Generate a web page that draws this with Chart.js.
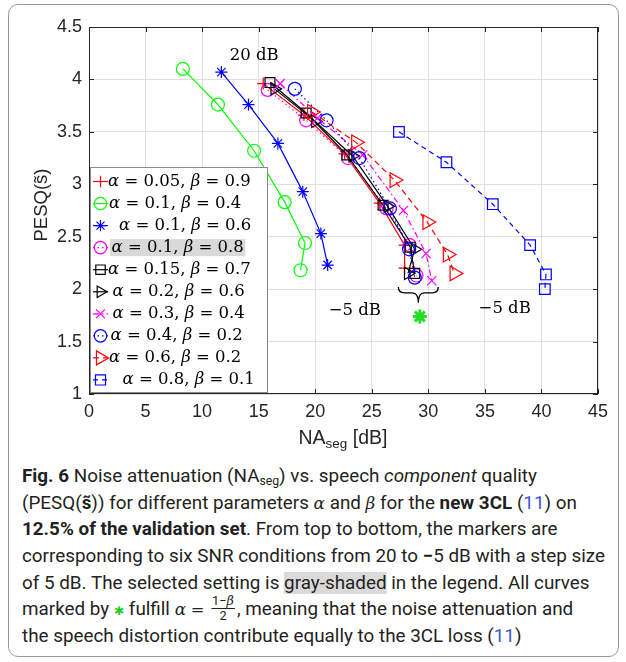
<!DOCTYPE html>
<html><head><meta charset="utf-8">
<script src="https://cdn.jsdelivr.net/npm/chart.js@4.4.1/dist/chart.umd.min.js"></script>
<style>
html,body{margin:0;padding:0;background:#fff}
body{width:626px;height:662px;position:relative;overflow:hidden}
#frame{position:absolute;left:8px;top:4px;width:611px;height:653px;border:1.3px solid #9a9a9a;border-radius:10px;box-sizing:border-box}
#c{position:absolute;left:0;top:0}
#cap{position:absolute;left:22px;top:463px;font-family:Roboto,"Liberation Sans",sans-serif;font-size:18.5px;color:#231f20;transform-origin:0 0;white-space:nowrap}
#cap .ln{height:26.7px;line-height:26.7px;white-space:nowrap}
.m{font-family:"DejaVu Serif",serif;font-style:italic;font-size:16.5px}
.bl{color:#3c56d6}
.gs{background:#dadada}
sub{font-size:12px;vertical-align:-3px;line-height:0}
.frac{display:inline-block;vertical-align:middle;text-align:center;font-size:12.5px;line-height:12px;margin:0 2px;position:relative;top:-2px}
.frac .nu{display:block;border-bottom:1px solid #231f20;padding:0 1px 1px}
.frac .de{display:block;padding-top:1px}
.gst{color:#22cc22;font-family:"DejaVu Sans",sans-serif;font-size:12px;font-weight:bold}
</style></head><body>
<div id="frame"></div>
<canvas id="c" width="626" height="455"></canvas>
<div id="cap">
<div class="ln"><span><b>Fig. 6</b> Noise attenuation (NA<sub>seg</sub>) vs. speech <i>component</i> quality</span></div>
<div class="ln"><span>(PESQ(<b>s̃</b>)) for different parameters <span class="m">α</span> and <span class="m">β</span> for the <b>new 3CL</b> (<span class="bl">11</span>) on</span></div>
<div class="ln"><span><b>12.5% of the validation set</b>. From top to bottom, the markers are</span></div>
<div class="ln"><span id="ln4">corresponding to six SNR conditions from 20 to <b>−</b>5 dB with a step size</span></div>
<div class="ln"><span>of 5 dB. The selected setting is <span class="gs">gray-shaded</span> in the legend. All curves</span></div>
<div class="ln"><span>marked by <span class="gst">✱</span> fulfill <span class="m">α</span> <span style="font-family:'DejaVu Serif';font-size:16px">=</span> <span class="frac"><span class="nu">1−<i style="font-family:'DejaVu Serif'">β</i></span><span class="de">2</span></span>, meaning that the noise attenuation and</span></div>
<div class="ln"><span>the speech distortion contribute equally to the 3CL loss (<span class="bl">11</span>)</span></div>
</div>
<script>
// ---- data ----
const snrLevels = ['20 dB','15 dB','10 dB','5 dB','0 dB','-5 dB'];
const alphaVals = ['0.05','0.1','0.1','0.1','0.15','0.2','0.3','0.4','0.6','0.8'];
const betaVals  = ['0.9','0.4','0.6','0.8','0.7','0.6','0.4','0.2','0.2','0.1'];

const na_a005_b09 = [15.4, 19.0, 22.6, 25.7, 27.9, 27.9];
const pesq_a005_b09 = [3.96, 3.66, 3.29, 2.82, 2.42, 2.20];
const na_a01_b04 = [8.3, 11.4, 14.6, 17.3, 19.1, 18.7];
const pesq_a01_b04 = [4.10, 3.76, 3.32, 2.83, 2.44, 2.18];
const na_a01_b06 = [11.7, 14.1, 16.7, 18.9, 20.5, 21.1];
const pesq_a01_b06 = [4.07, 3.76, 3.39, 2.93, 2.53, 2.23];
const na_a01_b08 = [15.8, 19.2, 22.9, 26.3, 28.35, 28.95];
const pesq_a01_b08 = [3.90, 3.61, 3.25, 2.77, 2.42, 2.13];
const na_a015_b07 = [16.0, 19.2, 22.8, 26.0, 28.4, 28.8];
const pesq_a015_b07 = [3.97, 3.68, 3.28, 2.80, 2.40, 2.15];
const na_a02_b06 = [16.4, 20.0, 23.3, 26.4, 28.8, 28.2];
const pesq_a02_b06 = [3.91, 3.60, 3.27, 2.79, 2.38, 2.15];
const na_a03_b04 = [16.9, 20.2, 24.2, 27.8, 29.8, 30.3];
const pesq_a03_b04 = [3.96, 3.63, 3.28, 2.75, 2.34, 2.08];
const na_a04_b02 = [18.2, 21.0, 23.9, 26.6, 28.3, 28.8];
const pesq_a04_b02 = [3.91, 3.61, 3.25, 2.77, 2.38, 2.11];
const na_a06_b02 = [19.7, 23.6, 27.0, 29.9, 31.7, 32.3];
const pesq_a06_b02 = [3.69, 3.40, 3.04, 2.64, 2.33, 2.15];
const na_a08_b01 = [27.4, 31.6, 35.7, 39.0, 40.4, 40.3];
const pesq_a08_b01 = [3.50, 3.21, 2.81, 2.42, 2.14, 2.00];

const equalMarkNA = [29.25];
const equalMarkPESQ = [1.74];

const xTickValues = [0,5,10,15,20,25,30,35,40,45];
const xTickLabels = ['0','5','10','15','20','25','30','35','40','45'];
const yTickValues = [1,1.5,2,2.5,3,3.5,4,4.5];
const yTickLabels = ['1','1.5','2','2.5','3','3.5','4','4.5'];

const allNA = [na_a005_b09,na_a01_b04,na_a01_b06,na_a01_b08,na_a015_b07,na_a02_b06,na_a03_b04,na_a04_b02,na_a06_b02,na_a08_b01];
const allPESQ = [pesq_a005_b09,pesq_a01_b04,pesq_a01_b06,pesq_a01_b08,pesq_a015_b07,pesq_a02_b06,pesq_a03_b04,pesq_a04_b02,pesq_a06_b02,pesq_a08_b01];

// ---- styles ----
const styles = [
 {color:'#ff0000', point:'cross', r:6, rot:0, dash:[]},
 {color:'#00ff00', point:'circle', r:6.5, rot:0, dash:[]},
 {color:'#0000ff', point:'star', r:6, rot:0, dash:[]},
 {color:'#ff00ff', point:'circle', r:6.5, rot:0, dash:[1.5,3]},
 {color:'#000000', point:'rect', r:7, rot:0, dash:[]},
 {color:'#000000', point:'triangle', r:7, rot:90, dash:[]},
 {color:'#ff00ff', point:'crossRot', r:6.5, rot:0, dash:[6,3,1.5,3]},
 {color:'#0000ff', point:'circle', r:6.5, rot:0, dash:[1.5,3]},
 {color:'#ff0000', point:'triangle', r:8.5, rot:90, dash:[6,4]},
 {color:'#0000ff', point:'rect', r:7.5, rot:0, dash:[5,4]}
];
const legendTextX = [108,109,119,111.5,108,112.5,112.5,110.5,109,122.5];
const shadedIndex = 3;
const SERIF = '"DejaVu Serif", serif';
const SANS = '"Liberation Sans", Arial, sans-serif';

const datasets = allNA.map((na,i)=>({
  label: 'α = '+alphaVals[i]+', β = '+betaVals[i],
  data: na.map((v,k)=>({x:v, y:allPESQ[i][k]})),
  showLine:true,
  borderColor: styles[i].color,
  borderWidth: 1.2,
  borderDash: styles[i].dash,
  pointStyle: styles[i].point,
  pointRadius: styles[i].r,
  pointRotation: styles[i].rot,
  pointBorderColor: styles[i].color,
  pointBackgroundColor: 'rgba(0,0,0,0)',
  pointBorderWidth: 1.2,
  tension: 0,
  order: -i
}));
datasets.push({
  label:'equal',
  data: equalMarkNA.map((v,k)=>({x:v, y:equalMarkPESQ[k]})),
  showLine:false,
  pointStyle:'star', pointRadius:7, pointBorderWidth:3,
  pointBorderColor:'#22dd22', pointBackgroundColor:'rgba(0,0,0,0)',
  order: -20
});

function drawMixed(ctx, parts, x, y, size){
  let cx = x;
  for (const p of parts){
    ctx.font = (p.i?'italic ':'') + size + 'px ' + SERIF;
    ctx.fillText(p.t, cx, y);
    cx += ctx.measureText(p.t).width;
  }
  return cx - x;
}
function mixedWidth(ctx, parts, size){
  let w = 0;
  for (const p of parts){ ctx.font = (p.i?'italic ':'') + size + 'px ' + SERIF; w += ctx.measureText(p.t).width; }
  return w;
}

const decor = {
  id:'decor',
  afterDatasetsDraw(chart){
    const {ctx, chartArea:a, scales:{x,y}} = chart;
    ctx.save();
    // axes box
    ctx.strokeStyle = '#262626'; ctx.lineWidth = 1; ctx.setLineDash([]);
    ctx.strokeRect(a.left+0.5, a.top+0.5, a.right-a.left-1, a.bottom-a.top-1);
    // inward ticks
    ctx.beginPath();
    xTickValues.forEach(v=>{
      const px = Math.round(x.getPixelForValue(v))+0.5;
      ctx.moveTo(px, a.bottom); ctx.lineTo(px, a.bottom-5);
      ctx.moveTo(px, a.top); ctx.lineTo(px, a.top+5);
    });
    yTickValues.forEach(v=>{
      const py = Math.round(y.getPixelForValue(v))+0.5;
      ctx.moveTo(a.left, py); ctx.lineTo(a.left+5, py);
      ctx.moveTo(a.right, py); ctx.lineTo(a.right-5, py);
    });
    ctx.stroke();

    // annotations
    ctx.fillStyle = '#000';
    ctx.font = '16.5px ' + SERIF;
    ctx.textAlign = 'center'; ctx.textBaseline = 'middle';
    ctx.fillText('20 dB', x.getPixelForValue(14.6), y.getPixelForValue(4.23));
    ctx.fillText('−5 dB', x.getPixelForValue(23.5), y.getPixelForValue(1.79));
    ctx.fillText('−5 dB', x.getPixelForValue(36.75), y.getPixelForValue(1.81));

    // brace
    const bx0 = x.getPixelForValue(27.35), bx1 = x.getPixelForValue(30.88);
    const bm = (bx0+bx1)/2;
    const by0 = y.getPixelForValue(2.02), by1 = y.getPixelForValue(1.965), by2 = y.getPixelForValue(1.87);
    ctx.strokeStyle = '#000'; ctx.lineWidth = 1.3;
    ctx.beginPath();
    ctx.moveTo(bx0, by0);
    ctx.quadraticCurveTo(bx0, by1, bx0+6, by1);
    ctx.lineTo(bm-6, by1);
    ctx.quadraticCurveTo(bm, by1, bm, by2);
    ctx.quadraticCurveTo(bm, by1, bm+6, by1);
    ctx.lineTo(bx1-6, by1);
    ctx.quadraticCurveTo(bx1, by1, bx1, by0);
    ctx.stroke();

    // legend
    const L = {left:90, top:167, right:267, bottom:392};
    ctx.fillStyle = '#fff';
    ctx.fillRect(L.left, L.top, L.right-L.left, L.bottom-L.top);
    ctx.strokeStyle = '#8a8a8a'; ctx.lineWidth = 1;
    ctx.strokeRect(L.left+0.5, L.top+0.5, L.right-L.left, L.bottom-L.top);
    const fs = 16.5;
    for (let i=0;i<alphaVals.length;i++){
      const ry = 181.5 + i*22.05;
      const parts = [{t:'α',i:true},{t:' = '+alphaVals[i]+', '},{t:'β',i:true},{t:' = '+betaVals[i]}];
      const tx = legendTextX[i];
      if (i===shadedIndex){
        const w = mixedWidth(ctx, parts, fs);
        ctx.fillStyle = '#d9d9d9';
        ctx.fillRect(tx-1.5, ry-8.5, w+3, 17);
      }
      const st = styles[i];
      ctx.strokeStyle = st.color; ctx.lineWidth = 1.2;
      ctx.setLineDash(st.dash);
      ctx.beginPath(); ctx.moveTo(93, ry); ctx.lineTo(108, ry); ctx.stroke();
      ctx.setLineDash([]);
      ctx.fillStyle = 'rgba(0,0,0,0)';
      Chart.helpers.drawPoint(ctx, {pointStyle:st.point, radius:st.r*0.95, rotation:st.rot, borderWidth:1.2}, 100.5, ry);
      ctx.fillStyle = '#000';
      ctx.textAlign = 'left'; ctx.textBaseline = 'middle';
      drawMixed(ctx, parts, tx, ry, fs);
    }
    ctx.restore();
  },
  afterDraw(chart){
    const {ctx} = chart;
    ctx.save();
    ctx.fillStyle = '#262626';
    ctx.textBaseline = 'alphabetic'; ctx.textAlign = 'left';
    const f1 = '19.5px ' + SANS, f2 = '13.5px ' + SANS;
    ctx.font = f1; const wNA = ctx.measureText('NA').width; const wdB = ctx.measureText(' [dB]').width;
    ctx.font = f2; const wseg = ctx.measureText('seg').width;
    let sx = 343 - (wNA+wseg+wdB)/2; const by = 444;
    ctx.font = f1; ctx.fillText('NA', sx, by); sx += wNA;
    ctx.font = f2; ctx.fillText('seg', sx, by+4); sx += wseg;
    ctx.font = f1; ctx.fillText(' [dB]', sx, by);
    ctx.font = '18.5px ' + SANS;
    ctx.translate(42, 205); ctx.rotate(-Math.PI/2);
    ctx.textAlign = 'center'; ctx.textBaseline = 'middle';
    ctx.fillText('PESQ(s\u0303)', 0, 0);
    ctx.restore();
  }
};

new Chart(document.getElementById('c'), {
  type:'scatter',
  data:{datasets},
  options:{
    responsive:false, animation:false, devicePixelRatio:1,
    layout:{padding:{left:0, top:27, right:28, bottom:0}},
    plugins:{legend:{display:false}, tooltip:{enabled:false}},
    scales:{
      x:{type:'linear', min:0, max:45,
        afterBuildTicks:s=>{ s.ticks = xTickValues.map(v=>({value:v})); },
        afterFit:s=>{ s.height = 61; },
        ticks:{callback:(v,idx)=>xTickLabels[idx], font:{family:SANS, size:18}, color:'#262626', padding:7, maxRotation:0, autoSkip:false},
        grid:{color:'#dfdfdf', drawTicks:false, lineWidth:1}, border:{display:false}},
      y:{type:'linear', min:1, max:4.5,
        afterBuildTicks:s=>{ s.ticks = yTickValues.map(v=>({value:v})); },
        afterFit:s=>{ s.width = 89; },
        ticks:{callback:(v,idx)=>yTickLabels[idx], font:{family:SANS, size:18}, color:'#262626', padding:7, autoSkip:false},
        grid:{color:'#dfdfdf', drawTicks:false, lineWidth:1}, border:{display:false}}
    }
  },
  plugins:[decor]
});

function fitCaption(){
  const cap = document.getElementById('cap');
  cap.style.transform = 'none';
  const w = document.getElementById('ln4').getBoundingClientRect().width;
  if (w > 0) cap.style.transform = 'scaleX(' + (583 / w) + ')';
}
fitCaption();
if (document.fonts && document.fonts.ready) document.fonts.ready.then(fitCaption);
</script>
</body></html>
